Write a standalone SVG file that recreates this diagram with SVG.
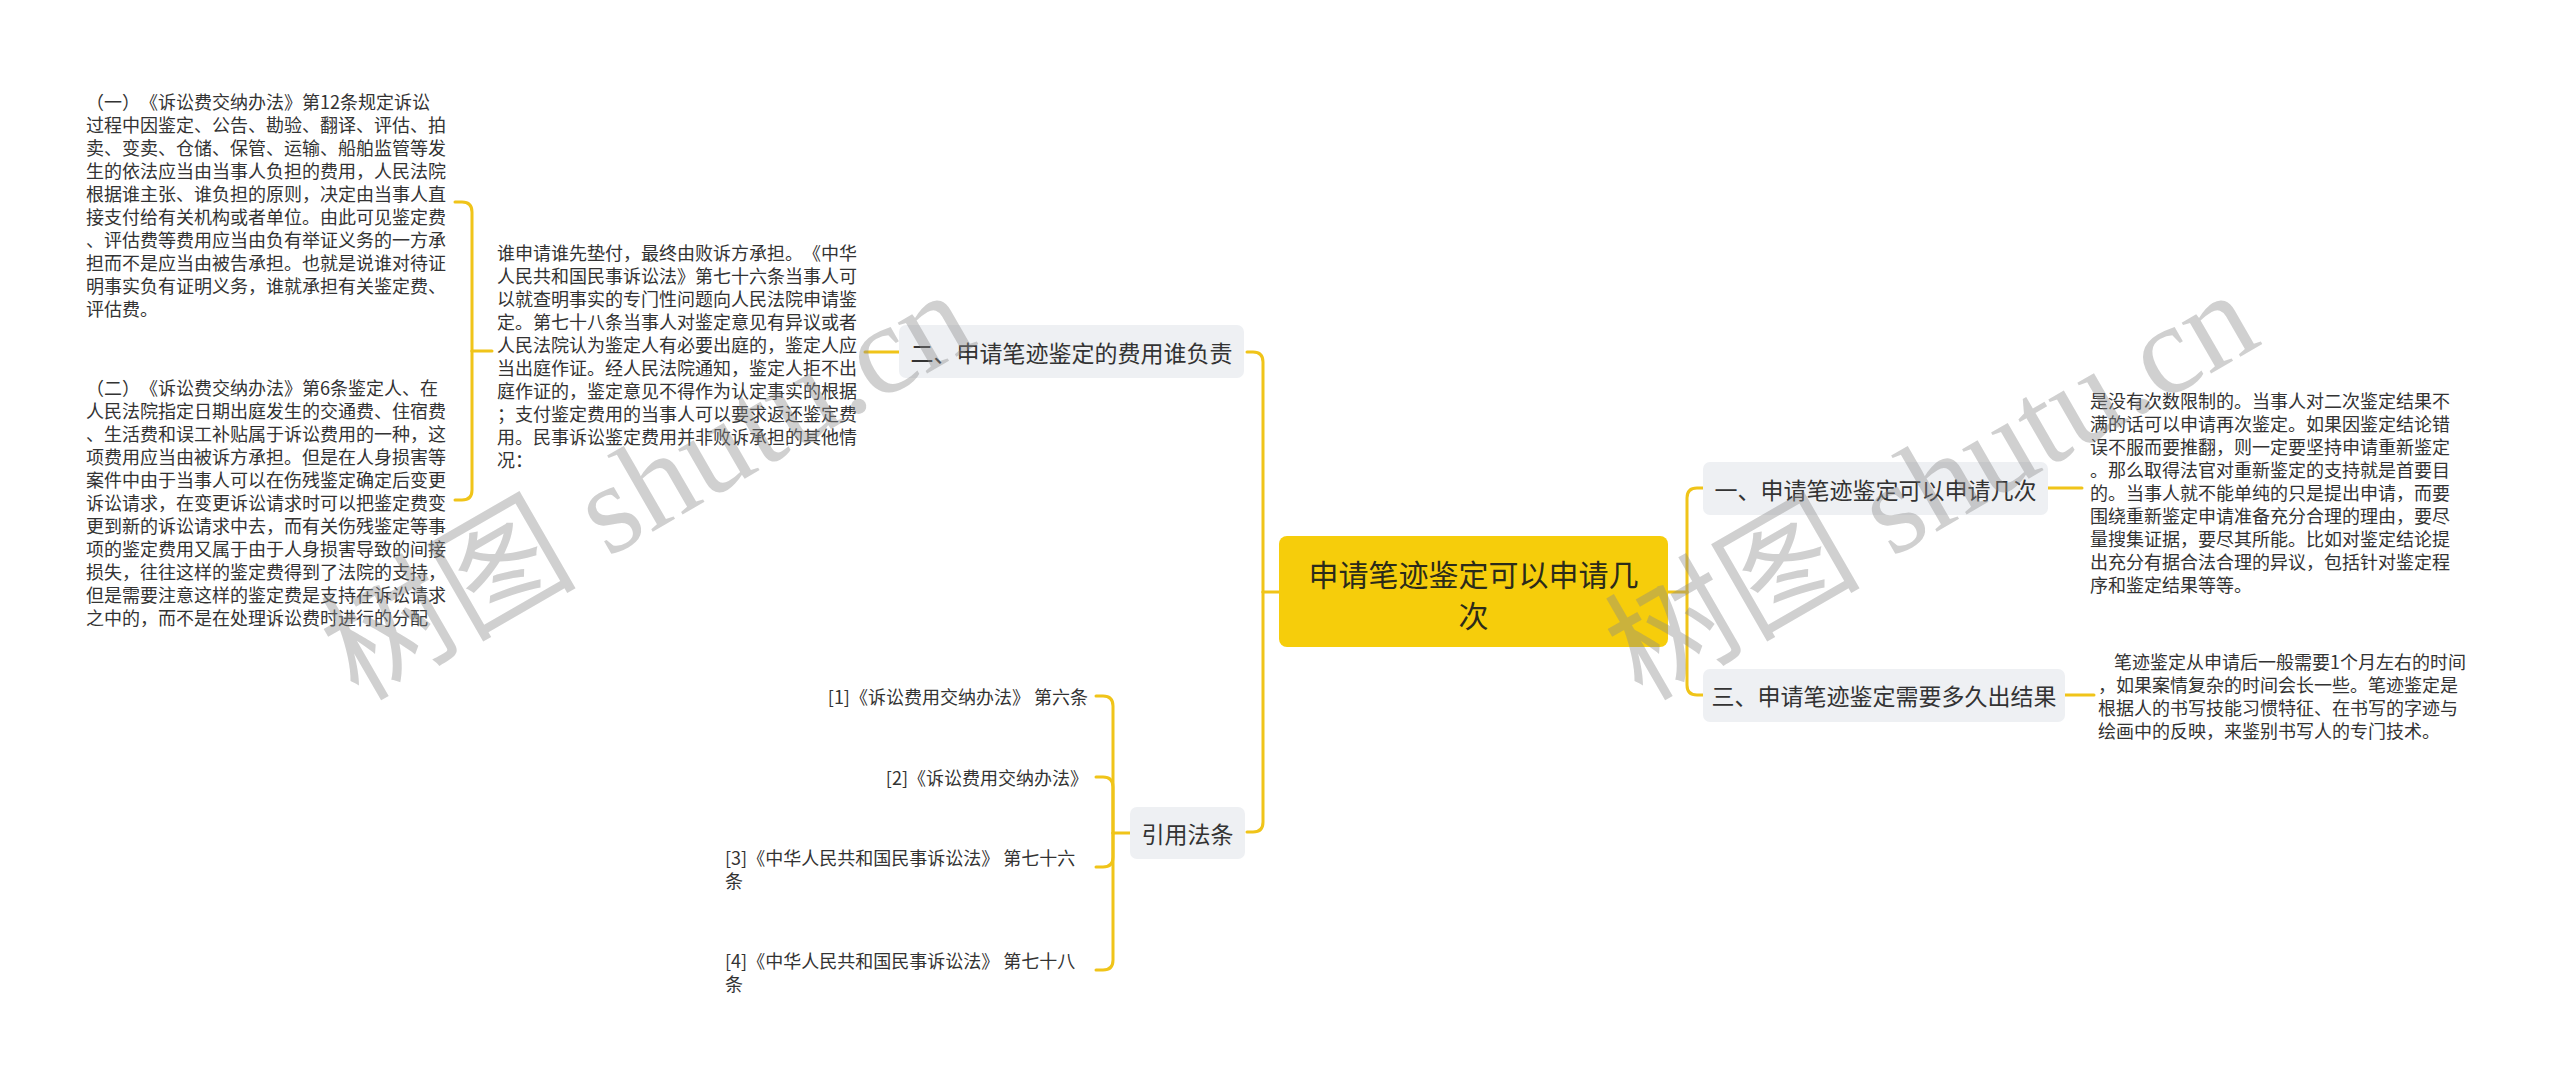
<svg xmlns="http://www.w3.org/2000/svg" width="2560" height="1079" viewBox="0 0 2560 1079">
<style>
text{font-family:"Noto Sans CJK SC","Noto Sans",sans-serif;fill:#333;text-spacing-trim:space-all;}
.sm{font-size:18px;dominant-baseline:central;}
.br{font-size:23px;dominant-baseline:central;text-anchor:middle;}
.rt{font-size:30px;dominant-baseline:central;text-anchor:middle;fill:#2b2b1a;}
.con{fill:none;stroke:#F0C419;stroke-width:3;stroke-linecap:round;}
.nb{fill:#EEF0F3;}
.wm{font-family:"Liberation Serif","Noto Sans CJK SC",serif;font-size:128px;fill:#8a8a8a;fill-opacity:0.4;}
</style>
<rect width="2560" height="1079" fill="#FFFFFF"/>
<g id="connectors">
<path class="con" d="M1279,592 H1263"/>
<path class="con" d="M1263,592 V362 Q1263,352 1253,352 H1247"/>
<path class="con" d="M1263,592 V822 Q1263,832 1253,832 H1247"/>
<path class="con" d="M1668,592 H1687"/>
<path class="con" d="M1687,592 V498 Q1687,488 1697,488 H1703"/>
<path class="con" d="M1687,592 V685 Q1687,695 1697,695 H1703"/>
<path class="con" d="M899,352 H865"/>
<path class="con" d="M492,351 H472"/>
<path class="con" d="M472,351 V212 Q472,202 462,202 H455"/>
<path class="con" d="M472,351 V490 Q472,500 462,500 H455"/>
<path class="con" d="M2048,488 H2082"/>
<path class="con" d="M2065,695 H2094"/>
<path class="con" d="M1130,833 H1113"/>
<path class="con" d="M1113,833 V706 Q1113,696 1103,696 H1096"/>
<path class="con" d="M1113,833 V787 Q1113,777 1103,777 H1096"/>
<path class="con" d="M1113,833 V857 Q1113,867 1103,867 H1096"/>
<path class="con" d="M1113,833 V960 Q1113,970 1103,970 H1096"/>
</g>
<g id="root">
<rect x="1279" y="536" width="389" height="111" rx="8" fill="#F6CD0B"/>
<text class="rt" x="1473.5" y="573">申请笔迹鉴定可以申请几</text>
<text class="rt" x="1473.5" y="614">次</text>
</g>
<g id="n2">
<rect class="nb" x="899" y="325" width="345" height="53" rx="7"/>
<text class="br" x="1071.5" y="352">二、申请笔迹鉴定的费用谁负责</text>
</g>
<g id="n2text">
<text class="sm" x="497" y="252">谁申请谁先垫付，最终由败诉方承担。《中华</text>
<text class="sm" x="497" y="275">人民共和国民事诉讼法》第七十六条当事人可</text>
<text class="sm" x="497" y="298">以就查明事实的专门性问题向人民法院申请鉴</text>
<text class="sm" x="497" y="321">定。第七十八条当事人对鉴定意见有异议或者</text>
<text class="sm" x="497" y="344">人民法院认为鉴定人有必要出庭的，鉴定人应</text>
<text class="sm" x="497" y="367">当出庭作证。经人民法院通知，鉴定人拒不出</text>
<text class="sm" x="497" y="390">庭作证的，鉴定意见不得作为认定事实的根据</text>
<text class="sm" x="497" y="413">；支付鉴定费用的当事人可以要求返还鉴定费</text>
<text class="sm" x="497" y="436">用。民事诉讼鉴定费用并非败诉承担的其他情</text>
<text class="sm" x="497" y="459">况：</text>
</g>
<g id="t1">
<text class="sm" x="86" y="101">（一）《诉讼费交纳办法》第12条规定诉讼</text>
<text class="sm" x="86" y="124">过程中因鉴定、公告、勘验、翻译、评估、拍</text>
<text class="sm" x="86" y="147">卖、变卖、仓储、保管、运输、船舶监管等发</text>
<text class="sm" x="86" y="170">生的依法应当由当事人负担的费用，人民法院</text>
<text class="sm" x="86" y="193">根据谁主张、谁负担的原则，决定由当事人直</text>
<text class="sm" x="86" y="216">接支付给有关机构或者单位。由此可见鉴定费</text>
<text class="sm" x="86" y="239">、评估费等费用应当由负有举证义务的一方承</text>
<text class="sm" x="86" y="262">担而不是应当由被告承担。也就是说谁对待证</text>
<text class="sm" x="86" y="285">明事实负有证明义务，谁就承担有关鉴定费、</text>
<text class="sm" x="86" y="308">评估费。</text>
</g>
<g id="t2">
<text class="sm" x="86" y="387">（二）《诉讼费交纳办法》第6条鉴定人、在</text>
<text class="sm" x="86" y="410">人民法院指定日期出庭发生的交通费、住宿费</text>
<text class="sm" x="86" y="433">、生活费和误工补贴属于诉讼费用的一种，这</text>
<text class="sm" x="86" y="456">项费用应当由被诉方承担。但是在人身损害等</text>
<text class="sm" x="86" y="479">案件中由于当事人可以在伤残鉴定确定后变更</text>
<text class="sm" x="86" y="502">诉讼请求，在变更诉讼请求时可以把鉴定费变</text>
<text class="sm" x="86" y="525">更到新的诉讼请求中去，而有关伤残鉴定等事</text>
<text class="sm" x="86" y="548">项的鉴定费用又属于由于人身损害导致的间接</text>
<text class="sm" x="86" y="571">损失，往往这样的鉴定费得到了法院的支持，</text>
<text class="sm" x="86" y="594">但是需要注意这样的鉴定费是支持在诉讼请求</text>
<text class="sm" x="86" y="617">之中的，而不是在处理诉讼费时进行的分配</text>
</g>
<g id="refs">
<rect class="nb" x="1130" y="807" width="115" height="52" rx="7"/>
<text class="br" x="1187.5" y="833">引用法条</text>
</g>
<g id="ref1"><text class="sm" x="1088" y="696" text-anchor="end">[1]《诉讼费用交纳办法》 第六条</text></g>
<g id="ref2"><text class="sm" x="1088" y="777" text-anchor="end">[2]《诉讼费用交纳办法》</text></g>
<g id="ref3">
<text class="sm" x="725" y="857">[3]《中华人民共和国民事诉讼法》 第七十六</text>
<text class="sm" x="725" y="880">条</text>
</g>
<g id="ref4">
<text class="sm" x="725" y="960">[4]《中华人民共和国民事诉讼法》 第七十八</text>
<text class="sm" x="725" y="983">条</text>
</g>
<g id="n1">
<rect class="nb" x="1703" y="462" width="345" height="53" rx="7"/>
<text class="br" x="1875.5" y="489">一、申请笔迹鉴定可以申请几次</text>
</g>
<g id="n1text">
<text class="sm" x="2090" y="400">是没有次数限制的。当事人对二次鉴定结果不</text>
<text class="sm" x="2090" y="423">满的话可以申请再次鉴定。如果因鉴定结论错</text>
<text class="sm" x="2090" y="446">误不服而要推翻，则一定要坚持申请重新鉴定</text>
<text class="sm" x="2090" y="469">。那么取得法官对重新鉴定的支持就是首要目</text>
<text class="sm" x="2090" y="492">的。当事人就不能单纯的只是提出申请，而要</text>
<text class="sm" x="2090" y="515">围绕重新鉴定申请准备充分合理的理由，要尽</text>
<text class="sm" x="2090" y="538">量搜集证据，要尽其所能。比如对鉴定结论提</text>
<text class="sm" x="2090" y="561">出充分有据合法合理的异议，包括针对鉴定程</text>
<text class="sm" x="2090" y="584">序和鉴定结果等等。</text>
</g>
<g id="n3">
<rect class="nb" x="1703" y="669" width="362" height="53" rx="7"/>
<text class="br" x="1884" y="695">三、申请笔迹鉴定需要多久出结果</text>
</g>
<g id="n3text">
<text class="sm" x="2114" y="661">笔迹鉴定从申请后一般需要1个月左右的时间</text>
<text class="sm" x="2098" y="684">，如果案情复杂的时间会长一些。笔迹鉴定是</text>
<text class="sm" x="2098" y="707">根据人的书写技能习惯特征、在书写的字迹与</text>
<text class="sm" x="2098" y="730">绘画中的反映，来鉴别书写人的专门技术。</text>
</g>
<g id="watermarks">
<text class="wm" transform="translate(358,702) rotate(-30)">树图 shutu.cn</text>
<text class="wm" transform="translate(1642,702) rotate(-30)">树图 shutu.cn</text>
</g>
</svg>
